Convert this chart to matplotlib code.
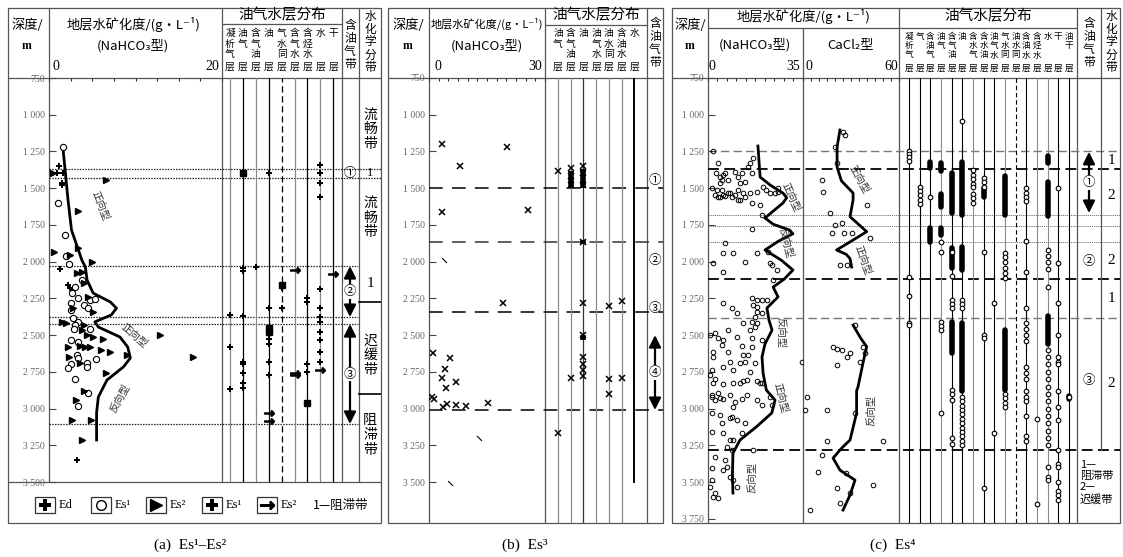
import numpy as np
import matplotlib.pyplot as plt
from matplotlib.patches import Rectangle
from matplotlib.transforms import blended_transform_factory

plt.rcParams['font.family'] = ['Noto Sans CJK SC', 'DejaVu Sans']

W, H = 1123, 557
D_TOP = 750
D_BOT_A = 3500
D_BOT = 3779

# ---------------- panel (a) data: Es1-Es2 ----------------
depth_ticks_a = [750, 1000, 1250, 1500, 1750, 2000, 2250, 2500, 2750, 3000, 3250, 3500]
a_curve_x = [1.6, 1.9, 2.2, 2.6, 3.0, 3.8, 4.2, 4.4, 5.1, 7.1, 7.8, 7.2, 5.3, 5.7, 8.2, 9.1, 9.4, 8.6, 6.7, 5.7, 5.5, 5.5]
a_curve_d = [1220, 1400, 1580, 1785, 1853, 1990, 2036, 2125, 2214, 2275, 2317, 2363, 2410, 2445, 2513, 2581, 2656, 2717, 2806, 2922, 3030, 3214]
a_ed_x = [1.2, 0.9, 1.6, 1.5, 1.5, 1.3, 2.2, 2.4, 2.8, 3.2]
a_ed_d = [1349, 1397, 1397, 1465, 1478, 2050, 2159, 2180, 2193, 3350]
a_es1_x = [1.6, 1.0, 1.8, 2.0, 2.3, 3.0, 2.7, 3.4, 4.7, 5.3, 2.6, 2.6, 4.0, 4.5, 2.8, 3.4, 3.0, 4.7,
           2.6, 3.4, 3.2, 3.4, 5.4, 2.5, 4.4, 2.2, 4.4, 3.0, 4.5, 3.4, 2.9, 3.8]
a_es1_d = [1220, 1601, 1819, 1962, 2016, 2170, 2214, 2248, 2261, 2255, 2282, 2330, 2296, 2316, 2384, 2408, 2431, 2459,
           2533, 2545, 2636, 2656, 2663, 2697, 2688, 2724, 2715, 2799, 2892, 2983, 2460, 2125]
a_es2_x = [0.5, 6.6, 3.3, 0.6, 2.4, 3.4, 5.0, 3.2, 3.8, 4.0, 4.5, 2.8, 5.1, 1.5, 2.0, 4.0, 3.8, 4.4, 5.1,
           6.2, 12.8, 2.2, 3.6, 4.2, 4.7, 6.0, 7.1, 2.3, 9.0, 16.7, 3.6, 6.6, 4.0, 3.1, 2.7, 4.9, 3.8]
a_es2_d = [1400, 1444, 1656, 1932, 1955, 1907, 2000, 2078, 2069, 2146, 2241, 2316, 2340, 2408, 2418, 2431, 2465, 2500, 2511,
           2527, 2500, 2581, 2574, 2579, 2581, 2601, 2613, 2647, 2636, 2647, 2690, 2758, 2878, 2942, 3078, 3078, 3214]
a_layers = ['凝析气层', '油气层', '含气油层', '油层', '气水同层', '含气水层', '含烃水层', '水层', '干层']
a_plus_col = [1, 1, 1, 1, 1, 1, 1, 1, 0, 0, 0, 2, 3, 3, 3, 3, 3, 3, 4, 4, 6, 6, 6, 6,
              7, 7, 7, 7, 7, 7, 7, 7, 7, 7, 7, 7]
a_plus_d = [2044, 2064, 2370, 2683, 2700, 2758, 2826, 2860, 2363, 2581, 2867, 2037, 1397, 2316, 2530, 2560, 2683, 2772,
            2180, 2316, 2248, 2275, 2700, 2751, 1342, 1397, 1465, 1560, 2187, 2316, 2380, 2410, 2479, 2533, 2615, 2683]
a_sq_col = [1, 3, 3, 4, 6]
a_sq_d = [1397, 2452, 2480, 2159, 2962]
a_arr_col = [3, 3, 5, 5, 5, 7, 8]
a_arr_d = [3030, 3085, 2057, 2758, 2772, 2735, 2084]
a_lines = [1370, 1430, 2030, 2377, 2425, 3105]

# ---------------- panel (b) data: Es3 ----------------
depth_ticks_b = [750, 1000, 1250, 1500, 1750, 2000, 2250, 2500, 2750, 3000, 3250, 3500]
b_x = [3.4, 20.2, 8.0, 3.4, 25.6, 19.1, 1.0, 5.4, 4.1, 3.4, 4.4, 7.0, 0.8, 1.3, 3.6, 4.6, 7.0, 9.6, 15.2]
b_d = [1199, 1220, 1349, 1662, 1650, 2282, 2622, 2656, 2732, 2793, 2861, 2820, 2922, 2935, 2990, 2970, 2976, 2983, 2962]
b_tick_x = [3.9, 12.9, 5.4]
b_tick_d = [1989, 3200, 3507]
b_layers = ['油气层', '含气油层', '油层', '油气水层', '油水同层', '含油水层', '水层']
b_xm_col = [0, 0, 1, 1, 1, 1, 2, 2, 2, 2, 2, 2, 2, 2, 2, 2, 4, 4, 4, 5, 5]
b_xm_d = [1383, 3166, 1360, 1420, 1480, 2793, 1349, 1400, 1480, 1866, 2282, 2499, 2650, 2700, 2740, 2780,
          2800, 2900, 2300, 2790, 2270]
b_bar_col = [1, 2, 2, 2]
b_bar_top = [1380, 1370, 2500, 1850]
b_bar_bot = [1500, 1500, 2535, 1880]
b_lines = [1500, 1866, 2343, 3010]

# ---------------- panel (c) data: Es4 ----------------
depth_ticks_c = [750, 1000, 1250, 1500, 1750, 2000, 2250, 2500, 2750, 3000, 3250, 3500, 3750]
c_na_x = [1.8, 3.7, 2.9, 4.4, 5.0, 5.5, 4.4, 6.3, 7.4, 9.9, 11.1, 11.8, 12.5, 13.6, 15.5, 16.6, 14.7, 16.2,
          1.5, 3.3, 5.2, 7.4, 6.3, 8.1, 8.8, 11.1, 12.9, 18.1, 20.3, 21.4, 24.7, 25.8,
          2.6, 3.7, 4.4, 5.5, 9.9, 11.1, 11.8, 13.6, 15.5, 16.2, 19.2, 19.9, 16.2, 25.8, 22.8, 6.3, 5.5, 9.2,
          13.6, 18.1, 22.1, 22.8, 23.6, 1.8, 5.5, 25.5, 24.0, 16.2, 18.1, 19.9, 21.7, 5.5, 8.8, 10.7, 16.6,
          18.1, 18.1, 19.9, 17.3, 12.9, 16.2, 18.1, 7.4, 15.5, 17.3, 0.7, 2.6, 3.7, 5.5, 10.7, 16.2, 19.9,
          5.2, 12.5, 16.2, 1.8, 1.8, 7.4, 12.9, 14.7, 8.1, 11.8, 13.6, 17.3, 1.5, 5.5, 9.2, 15.5, 0.7, 2.6,
          9.2, 12.9, 18.1, 19.9, 34.5,
          1.8, 5.5, 11.8, 14.4, 19.2, 1.5, 1.5, 2.6, 4.4, 3.7, 5.5, 8.1, 9.9, 9.2, 12.5, 14.4, 18.1, 19.9,
          22.8, 23.6, 1.5, 4.4, 5.2, 8.8, 8.1, 10.7, 13.6, 1.5, 5.5, 8.1, 9.2, 12.5, 7.0, 8.8, 16.6, 2.6,
          6.3, 7.0, 1.5, 5.5, 8.1, 1.5, 0.7, 2.6, 1.8, 3.7, 10.7, 9.2]
c_na_d = [1247, 1329, 1397, 1424, 1444, 1410, 1465, 1397, 1444, 1390, 1424, 1465, 1397, 1458, 1329, 1295, 1356, 1397,
          1499, 1512, 1512, 1533, 1550, 1533, 1560, 1512, 1533, 1526, 1492, 1512, 1533, 1499,
          1546, 1560, 1560, 1546, 1546, 1580, 1580, 1560, 1533, 1601, 1615, 1683, 1778, 1525, 1533, 1873, 1941, 1941,
          2003, 1941, 1934, 2010, 2023, 2010, 2071, 2057, 2125, 2248, 2261, 2261, 2261, 2282, 2316, 2350, 2296,
          2310, 2343, 2350, 2377, 2418, 2411, 2418, 2466, 2466, 2445, 2500, 2486, 2520, 2533, 2513, 2520, 2533,
          2568, 2574, 2581, 2615, 2649, 2615, 2635, 2635, 2683, 2690, 2683, 2690, 2738, 2717, 2738, 2751, 2772, 2799,
          2826, 2812, 2812, 2826, 2683,
          2826, 2833, 2826, 2806, 2826, 2922, 2908, 2942, 2930, 2895, 2935, 2908, 2956, 2990, 2935, 2908, 2942, 2976,
          2922, 2976, 3030, 3044, 3098, 3057, 3064, 3078, 3098, 3160, 3167, 3214, 3214, 3167, 3262, 3282, 3282, 3330,
          3350, 3398, 3405, 3418, 3466, 3487, 3534, 3575, 3602, 3609, 3534, 3487]
c_na_cx = [18.4, 19.2, 23.0, 27.6, 29.0, 27.6, 21.0, 24.0, 30.0, 31.3, 26.0, 21.0, 27.0, 31.3, 28.0, 24.0, 25.8,
           21.7, 22.5, 23.6, 21.0, 19.9, 20.3, 21.5, 24.7, 23.5, 17.9, 11.8, 9.2, 9.0, 9.2]
c_na_cd = [1213, 1424, 1480, 1533, 1565, 1601, 1703, 1745, 1785, 1810, 1860, 1921, 1990, 2057, 2120, 2173, 2240,
           2316, 2400, 2466, 2560, 2649, 2760, 2874, 2942, 3030, 3123, 3214, 3303, 3450, 3575]
c_ca_x = [25, 26, 20, 21.3, 11.9, 12.5, 16.9, 40, 20, 24.4, 30.6, 25.6, 18.1, 41.9, 23.1, 27.5, 32.5, 18.8, 21.3,
          24.4, 27.5, 29.4, 37.5, 38.8, 35.6, 21.3, 2.5, 1.3, 15, 32.5, 15, 50, 11.9, 9.4, 26.9, 21.3, 29.4, 43.8,
          23.1, 4.4]
c_ca_d = [1117, 1135, 1220, 1329, 1444, 1526, 1669, 1615, 1751, 1737, 1805, 1805, 1805, 1839, 2023, 2023, 2432, 2581,
          2595, 2602, 2649, 2622, 2581, 2622, 2683, 2704, 2922, 3010, 3010, 3030, 3221, 3221, 3316, 3432, 3439, 3541,
          3575, 3520, 3643, 3691]
c_ca1_x = [23.1, 21.3, 21.3, 24.0, 31.3, 31.3, 29.4, 39.8, 31.3, 21.0, 27.0, 29.4, 30.4]
c_ca1_d = [1104, 1220, 1356, 1450, 1533, 1580, 1694, 1796, 1853, 1921, 1950, 1980, 2037]
c_ca2_x = [31.3, 36.0, 39.8, 37.5, 34.4, 33.5, 33.5, 29.4, 24.2, 18.8, 23.1, 32.5, 29.4, 25.0]
c_ca2_d = [2432, 2520, 2579, 2690, 2851, 2880, 3030, 3214, 3269, 3337, 3419, 3487, 3589, 3691]
c_layers = ['凝析气层', '气层', '含油气层', '油气层', '含气油层', '油层', '含水气层', '含水油层', '油气水层',
            '气水同层', '油水同层', '含油水层', '含烃水层', '水层', '干层', '油干层']
c_circ = {0: [1250, 1270, 1290, 1315, 2105, 2234, 2418, 2430],
          1: [1492, 1520, 1545, 1580, 1610],
          2: [1560],
          3: [1866, 1934, 2411, 2440, 2466, 3030],
          4: [1934, 2098, 2261, 2290, 2316, 2874, 2900, 2942, 3200, 3240],
          5: [1043, 2261, 2290, 2316, 2920, 2950, 2980, 3010, 3040, 3070, 3100, 3130, 3160, 3190, 3220, 3250],
          6: [1376, 1410, 1440, 1470, 1492, 1540, 1570, 1600],
          7: [1430, 1460, 1490, 1934, 2500, 2520, 3541],
          8: [2282, 3167],
          9: [1941, 1970, 2000, 2040, 2080, 2112, 2900, 2930, 2960, 2990],
          11: [1500, 1530, 1560, 1590, 1860, 2071, 2316, 2420, 2460, 2500, 2540, 2720, 2760, 2800, 2880, 2920,
               2950, 3050, 3190, 3220],
          12: [3071, 3649],
          13: [1920, 1960, 2000, 2050, 2173, 2600, 2650, 2700, 2750, 2800, 2850, 2900, 2950, 3000, 3050, 3100, 3150,
               3200, 3250, 3400, 3466, 3487],
          14: [1499, 2010, 2282, 2500, 2650, 2680, 2700, 2880, 2990, 3080, 3282, 3380, 3400, 3500, 3560, 3590, 3620],
          15: [2922]}
c_bars = {2: [(1322, 1363), (1771, 1866)],
          3: [(1330, 1380), (1540, 1628), (1771, 1819)],
          4: [(1400, 1669), (1907, 2044), (2411, 2622)],
          5: [(1320, 1680), (1900, 2060), (2420, 2880)],
          7: [(1500, 1560)],
          9: [(1420, 1680), (2466, 2874)],
          13: [(1280, 1330), (1460, 1690), (2370, 2560)],
          15: [(2912, 2935)]}
c_lines = [1247, 1369, 1683, 1757, 1866, 2118, 2384, 3282]
c_line_style = ['gray', 'bold', 'thin', 'thin', 'thin', 'bold', 'gray', 'bold']

# ---------------- figure helpers ----------------
fig = plt.figure(figsize=(W / 100, H / 100), dpi=100)
ov = fig.add_axes([0, 0, 1, 1])
ov.set_xlim(0, W)
ov.set_ylim(H, 0)
ov.axis('off')

FRAME = '#555555'
GRAY = '#8a8a8a'
SERIF = ['Liberation Serif', 'DejaVu Sans']


def box(x0, y0, x1, y1):
    ax = fig.add_axes([x0 / W, 1 - y1 / H, (x1 - x0) / W, (y1 - y0) / H])
    ax.set_facecolor('none')
    for s in ax.spines.values():
        s.set_visible(False)
    ax.set_xticks([])
    ax.set_yticks([])
    return ax


def line(xs, ys, color=FRAME, lw=0.9, **kw):
    ov.plot(xs, ys, color=color, lw=lw, solid_capstyle='butt', **kw)


def txt(x, y, s, fs=8, **kw):
    kw.setdefault('ha', 'center')
    kw.setdefault('va', 'center')
    ov.text(x, y, s, fontsize=fs, **kw)


def depth_axes(x0, x1, ybot, dbot, xlim):
    ax = box(x0, 78, x1, ybot)
    ax.set_xlim(*xlim)
    ax.set_ylim(dbot, D_TOP)
    return ax


def scatter_axes(x0, x1, ybot, dbot, xmax, xstep, dticks=None):
    ax = depth_axes(x0, x1, ybot, dbot, (0, xmax))
    ax.set_xticks(np.arange(0, xmax + 0.01, xstep))
    ax.tick_params(axis='x', top=True, bottom=False, labeltop=False, labelbottom=False,
                   direction='in', length=2.5, width=0.8, color='#333')
    if dticks is not None:
        ax.set_yticks(dticks)
        ax.set_yticklabels([f'{v:,}'.replace(',', ' ') for v in dticks], fontsize=7,
                           color='#666', family='Liberation Serif')
        ax.tick_params(axis='y', left=True, direction='in', length=5, width=0.8, pad=3, color='#444')
    return ax


def col_labels(ax, labels, row0, dy, ybot, fs):
    tr = blended_transform_factory(ax.transData, ov.transData)
    for i, lab in enumerate(labels):
        for k, ch in enumerate(lab[:-1]):
            ax.text(i, row0 + k * dy, ch, transform=tr, fontsize=fs, ha='center', va='center', clip_on=False)
        ax.text(i, ybot, lab[-1], transform=tr, fontsize=fs, ha='center', va='center', clip_on=False)


def arrow2(ax, x, d0, d1, label):
    ax.annotate('', xy=(x, d1), xytext=(x, d0),
                arrowprops=dict(arrowstyle='<|-|>', mutation_scale=18, lw=1.6, color='k',
                                shrinkA=0, shrinkB=0))
    ax.text(x, (d0 + d1) / 2, label, fontsize=9, ha='center', va='center',
            bbox=dict(facecolor='white', edgecolor='none', pad=0.5))


# ======================= panel (a) =======================
line([8, 381, 381, 8, 8], [8, 8, 523, 523, 8])
line([8, 381], [78, 78])
line([8, 381], [482, 482])
for xv in [49, 222, 342, 359]:
    line([xv, xv], [8, 482])
line([222, 342], [24, 24])

txt(27, 25, '深度/', 9.5)
txt(27, 46, 'm', 8.5, family='Liberation Serif', weight='bold')
txt(133, 25, '地层水矿化度/(g•L⁻¹)', 9.5)
txt(133, 46, '(NaHCO₃型)', 9.5)
txt(56, 67, '0', 10, family='Liberation Serif')
txt(212, 67, '20', 10, family='Liberation Serif')
txt(282, 15, '油气水层分布', 10.5)
txt(350, 45, '含\n油\n气\n带', 8.5, linespacing=1.0)
txt(370, 42, '水\n化\n学\n分\n带', 8.5, linespacing=1.0)

body_a = depth_axes(49, 381, 482, D_BOT_A, (49, 381))
for d in a_lines:
    xr = 381 if d < 1500 else 358
    body_a.plot([49, xr], [d, d], color='#222', lw=0.9, ls=(0, (1.2, 1.0)))
body_a.plot([359, 381], [2275, 2275], color='k', lw=1.2)
body_a.plot([359, 381], [2900, 2900], color='k', lw=1.2)
body_a.text(370, 1100, '流\n畅\n带', fontsize=10, ha='center', va='center', linespacing=1.05)
body_a.text(370, 1400, '1', fontsize=9, ha='center', va='center', family='Liberation Serif')
body_a.text(370, 1700, '流\n畅\n带', fontsize=10, ha='center', va='center', linespacing=1.05)
body_a.text(370, 2150, '1', fontsize=11, ha='center', va='center', family='Liberation Serif')
body_a.text(370, 2640, '迟\n缓\n带', fontsize=10, ha='center', va='center', linespacing=1.05)
body_a.text(370, 3180, '阻\n滞\n带', fontsize=10, ha='center', va='center', linespacing=1.05)
body_a.text(350, 1400, '①', fontsize=9, ha='center', va='center')
arrow2(body_a, 350, 2030, 2377, '②')
arrow2(body_a, 350, 2425, 3105, '③')

sa = scatter_axes(49, 222, 482, D_BOT_A, 20, 2.5, depth_ticks_a)
sa.plot(a_curve_x, a_curve_d, color='k', lw=2)
sa.plot(a_ed_x, a_ed_d, '+', color='k', ms=5, mew=1.4)
sa.plot(a_es1_x, a_es1_d, 'o', mfc='white', mec='k', ms=4.5, mew=0.8)
sa.plot(a_es2_x, a_es2_d, '>', color='k', ms=4.5)
sa.text(5.9, 1620, '正向型', rotation=-68, fontsize=7.5, ha='center', va='center', color='#333')
sa.text(9.8, 2505, '正向型', rotation=-40, fontsize=7.5, ha='center', va='center', color='#333')
sa.text(8.2, 2930, '反向型', rotation=62, fontsize=7.5, ha='center', va='center', color='#333')

da = depth_axes(222, 342, 482, D_BOT_A, (-0.62, 8.68))
a_col_colors = [GRAY, 'k', GRAY, 'k', 'k', GRAY, 'k', GRAY, 'k']
for i, c in enumerate(a_col_colors):
    da.axvline(i, color=c, lw=0.9, ls=(0, (5, 3)) if i == 4 else '-')
da.plot(a_plus_col, a_plus_d, 'P', color='k', ms=4.5, mew=0)
da.plot(a_sq_col, a_sq_d, 's', color='k', ms=4)
da.plot(a_arr_col, a_arr_d, marker='$\\rightarrow$', ls='none', color='k', ms=7)
col_labels(da, a_layers, 33, 10.5, 67, 7)

# legend row of panel (a)
leg = [('+', 'Ed'), ('o', 'Es¹'), ('>', 'Es²'), ('P', 'Es¹'), ('$\\rightarrow$', 'Es²')]
for k, (m, lab) in enumerate(leg):
    cx = 45 + 55.5 * k
    ov.add_patch(Rectangle((cx - 10, 497), 20, 16, fill=False, ec='#333', lw=0.9))
    if m == 'o':
        ov.plot(cx, 505, m, mfc='white', mec='k', ms=7, mew=1)
    elif m == '>':
        ov.plot(cx, 505, m, color='k', ms=9)
    elif m in ('+', 'P'):
        ov.plot(cx, 505, 'P', color='k', ms=8, mew=0)
    else:
        ov.plot(cx, 505, marker=m, color='k', ms=10)
    txt(cx + 14, 505, lab, 9, ha='left', family=SERIF)
txt(313, 505, '1—阻滞带', 9, ha='left')

# ======================= panel (b) =======================
line([388, 663, 663, 388, 388], [8, 8, 523, 523, 8])
line([388, 663], [78, 78])
for xv in [429, 545, 647]:
    line([xv, xv], [8, 523])
line([545, 647], [25, 25])
txt(408, 25, '深度/', 9.5)
txt(408, 46, 'm', 8.5, family='Liberation Serif', weight='bold')
txt(487, 24, '地层水矿化度/(g•L⁻¹)', 8)
txt(487, 46, '(NaHCO₃型)', 9.5)
txt(438, 67, '0', 10, family='Liberation Serif')
txt(535, 67, '30', 10, family='Liberation Serif')
txt(596, 15, '油气水层分布', 10.5)
txt(655, 43, '含\n油\n气\n带', 8.5, linespacing=1.0)

body_b = depth_axes(429, 663, 523, D_BOT, (429, 663))
for d in b_lines:
    c = '#333' if d == 1866 else 'k'
    body_b.plot([429, 663], [d, d], color=c, lw=1.1, ls=(0, (9, 6)))
body_b.text(655, 1450, '①', fontsize=9, ha='center', va='center')
body_b.text(655, 1990, '②', fontsize=9, ha='center', va='center')
body_b.text(655, 2320, '③', fontsize=9, ha='center', va='center')
arrow2(body_b, 655, 2500, 3010, '④')

sb = scatter_axes(429, 545, 523, D_BOT, 30, 2.5, depth_ticks_b)
sb.plot(b_x, b_d, 'x', color='k', ms=4, mew=1.1)
sb.plot(b_tick_x, b_tick_d, marker=(2, 0, 45), ls='none', color='k', ms=5, mew=0.8)

db = depth_axes(545, 647, 523, D_BOT, (-1.02, 7.0))
for i in range(6):
    db.axvline(i, color=('#333' if i == 2 else GRAY), lw=0.9)
db.plot([6, 6], [D_TOP, 3500], color='k', lw=1.4)
db.plot(b_xm_col, b_xm_d, 'x', color='k', ms=4, mew=1.1)
db.vlines(b_bar_col, b_bar_top, b_bar_bot, color='k', lw=4)
col_labels(db, b_layers, 33, 10.5, 67, 7)

# ======================= panel (c) =======================
line([672, 1120, 1120, 672, 672], [8, 8, 523, 523, 8])
line([672, 1120], [78, 78])
for xv in [708, 899, 1077]:
    line([xv, xv], [8, 523])
line([803, 803], [28, 523])
line([1101, 1101], [8, 78])
line([708, 1077], [28, 28])
txt(690, 25, '深度/', 9.5)
txt(690, 46, 'm', 8.5, family='Liberation Serif', weight='bold')
txt(803, 17, '地层水矿化度/(g•L⁻¹)', 9.5)
txt(755, 45, '(NaHCO₃型)', 9.5)
txt(851, 45, 'CaCl₂型', 9.5)
txt(712, 67, '0', 10, family='Liberation Serif')
txt(793, 67, '35', 10, family='Liberation Serif')
txt(809, 67, '0', 10, family='Liberation Serif')
txt(891, 67, '60', 10, family='Liberation Serif')
txt(988, 16, '油气水层分布', 10.5)
txt(1089, 43, '含\n油\n气\n带', 8.5, linespacing=1.0)
txt(1111, 42, '水\n化\n学\n分\n带', 8.5, linespacing=1.0)

body_c = depth_axes(708, 1120, 523, D_BOT, (708, 1120))
for d, st in zip(c_lines, c_line_style):
    if st == 'bold':
        body_c.plot([708, 1120], [d, d], color='k', lw=1.3, ls=(0, (6, 3)))
    elif st == 'gray':
        body_c.plot([708, 1120], [d, d], color='#777', lw=1.0, ls=(0, (6, 3)))
    else:
        body_c.plot([708, 1120], [d, d], color='#666', lw=0.6, ls=(0, (1.5, 1)))
body_c.plot([1101, 1101], [D_TOP, 3282], color=FRAME, lw=0.9)
for d, s in zip([1310, 1550, 1990, 2250, 2830], ['1', '2', '2', '1', '2']):
    body_c.text(1111, d, s, fontsize=11, ha='center', va='center', family='Liberation Serif')
arrow2(body_c, 1089, 1253, 1669, '①')
body_c.text(1089, 2000, '②', fontsize=9, ha='center', va='center')
body_c.text(1089, 2806, '③', fontsize=9, ha='center', va='center')
body_c.text(1080, 3500, '1—\n阻滞带\n2—\n迟缓带', fontsize=8, ha='left', va='center', linespacing=1.15)

sc1 = scatter_axes(708, 803, 523, D_BOT, 35, 3.5, depth_ticks_c)
sc1.plot(c_na_cx, c_na_cd, color='k', lw=2)
sc1.plot(c_na_x, c_na_d, 'o', mfc='none', mec='k', ms=3.3, mew=0.7)
sc1.text(30.5, 1560, '正向型', rotation=-65, fontsize=7.5, ha='center', va='center', color='#333')
sc1.text(28.5, 1870, '反向型', rotation=-75, fontsize=7.5, ha='center', va='center', color='#333')
sc1.text(26.5, 2480, '反向型', rotation=-90, fontsize=7.5, ha='center', va='center', color='#333')
sc1.text(26.5, 2930, '正向型', rotation=-75, fontsize=7.5, ha='center', va='center', color='#333')
sc1.text(16.5, 3470, '反向型', rotation=90, fontsize=7.5, ha='center', va='center', color='#333')

sc2 = scatter_axes(803, 899, 523, D_BOT, 60, 5)
sc2.plot(c_ca1_x, c_ca1_d, color='k', lw=2)
sc2.plot(c_ca2_x, c_ca2_d, color='k', lw=2)
sc2.plot(c_ca_x, c_ca_d, 'o', mfc='none', mec='k', ms=3.3, mew=0.7)
sc2.text(35, 1440, '正向型', rotation=-60, fontsize=7.5, ha='center', va='center', color='#333')
sc2.text(37.5, 1990, '正向型', rotation=-70, fontsize=7.5, ha='center', va='center', color='#333')
sc2.text(43, 3010, '反向型', rotation=90, fontsize=7.5, ha='center', va='center', color='#333')

dc = depth_axes(899, 1077, 523, D_BOT, (-0.94, 15.75))
c_col_colors = ['k', 'k', 'k', GRAY, 'k', 'k', GRAY, 'k', 'k', GRAY, 'k', 'k', GRAY, GRAY, 'k', 'k']
for i, c in enumerate(c_col_colors):
    dc.axvline(i, color=c, lw=0.8, ls=(0, (4, 2.5)) if i == 10 else '-')
for col, segs in c_bars.items():
    for d0, d1 in segs:
        dc.plot([col, col], [d0, d1], color='k', lw=4, solid_capstyle='round')
for col, ds in c_circ.items():
    dc.plot([col] * len(ds), ds, 'o', mfc='white', mec='k', ms=3.3, mew=0.8)
col_labels(dc, c_layers, 36, 9.5, 68, 6.2)

# captions
txt(190, 545, '(a)  Es¹–Es²', 11, family=SERIF)
txt(525, 545, '(b)  Es³', 11, family=SERIF)
txt(893, 545, '(c)  Es⁴', 11, family=SERIF)

fig.savefig('out.png', dpi=100)
